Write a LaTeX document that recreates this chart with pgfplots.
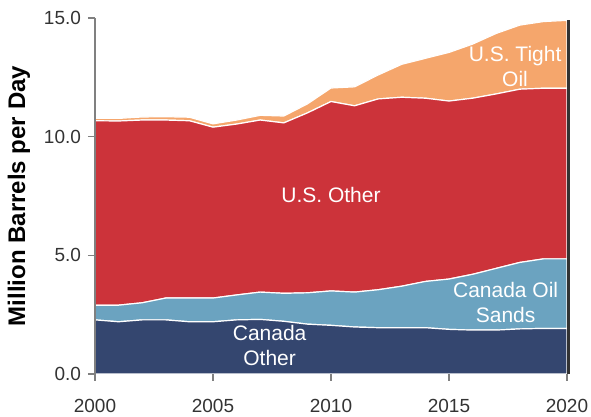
\documentclass[border=0pt]{standalone}
\usepackage{fontspec}
\setmainfont{Liberation Sans}
\usepackage{pgfplots}
\usepackage{pgfplotstable}
\pgfplotsset{compat=1.18}

\definecolor{cCanOther}{HTML}{34466F}
\definecolor{cOilSands}{HTML}{6BA3C0}
\definecolor{cUSOther}{HTML}{CC333A}
\definecolor{cTight}{HTML}{F5A66C}
\definecolor{cLabel}{HTML}{333333}

% production by source, million barrels per day
\pgfplotstableread{
year canother oilsands usother tightoil
2000 2.28 0.62 7.77 0.10
2001 2.20 0.70 7.76 0.11
2002 2.28 0.72 7.70 0.13
2003 2.28 0.92 7.50 0.14
2004 2.20 1.00 7.47 0.15
2005 2.20 1.00 7.20 0.14
2006 2.28 1.05 7.20 0.17
2007 2.30 1.15 7.25 0.20
2008 2.22 1.18 7.18 0.29
2009 2.10 1.32 7.58 0.38
2010 2.05 1.45 7.98 0.57
2011 1.98 1.47 7.85 0.80
2012 1.95 1.60 8.04 1.01
2013 1.95 1.75 7.96 1.39
2014 1.95 1.95 7.72 1.68
2015 1.88 2.12 7.50 2.05
2016 1.85 2.35 7.42 2.28
2017 1.85 2.60 7.35 2.55
2018 1.90 2.80 7.30 2.70
2019 1.92 2.93 7.19 2.81
2020 1.92 2.93 7.19 2.86
}\proddata

\begin{document}
\begin{tikzpicture}
\begin{axis}[
  scale only axis,
  width=236pt, height=178pt,
  xmin=2000, xmax=2020, ymin=0, ymax=15,
  axis x line*=bottom, axis y line*=left,
  x axis line style={draw=none},
  y axis line style={draw=gray, line width=0.6pt},
  axis on top,
  stack plots=y,
  xtick={2000,2005,2010,2015,2020}, ytick={0,5,10,15},
  tick align=outside, major tick length=3.5pt,
  tick style={gray, line width=0.6pt},
  xticklabel style={/pgf/number format/1000 sep={}, yshift=-5.5pt},
  yticklabel style={/pgf/number format/fixed, /pgf/number format/fixed zerofill, /pgf/number format/precision=1},
  /pgf/number format/assume math mode=true,
  ticklabel style={font=\fontsize{9.5}{11}\selectfont, text=cLabel},
  ylabel={\textbf{Million Barrels per Day}},
  ylabel style={font=\fontsize{12}{14}\selectfont, text=black},
]
\addplot[fill=cCanOther, draw=white, line width=0.6pt] table[x=year, y=canother] {\proddata} \closedcycle;
\addplot[fill=cOilSands, draw=white, line width=0.6pt] table[x=year, y=oilsands] {\proddata} \closedcycle;
\addplot[fill=cUSOther, draw=white, line width=0.6pt] table[x=year, y=usother] {\proddata} \closedcycle;
\addplot[fill=cTight, draw=white, line width=0.6pt] table[x=year, y=tightoil] {\proddata} \closedcycle;

\coordinate (boxSW) at (rel axis cs:0,0);
\coordinate (boxNE) at (rel axis cs:1,1);
\coordinate (lineBot) at (axis cs:2020,0);
\coordinate (lineTop) at (axis cs:2020,14.9);
\coordinate (lblTight) at (axis cs:2017.8,12.95);
\coordinate (lblUS) at (axis cs:2010,7.55);
\coordinate (lblSands) at (axis cs:2017.4,3.0);
\coordinate (lblCan) at (axis cs:2007.4,1.22);
\end{axis}
\draw[cLabel, line width=1.6pt] ([xshift=0.6pt]lineBot) -- ([xshift=0.6pt]lineTop);
\begin{scope}[every node/.style={text=white, align=center, font=\fontsize{10.5}{12.5}\selectfont}]
\node at (lblTight) {U.S. Tight\\Oil};
\node at (lblUS) {U.S. Other};
\node at (lblSands) {Canada Oil\\Sands};
\node at (lblCan) {Canada\\Other};
\end{scope}
\pgfresetboundingbox
\useasboundingbox ([xshift=-47.5pt, yshift=-21.5pt]boxSW) rectangle ([xshift=12pt, yshift=9pt]boxNE);
\end{tikzpicture}
\end{document}
